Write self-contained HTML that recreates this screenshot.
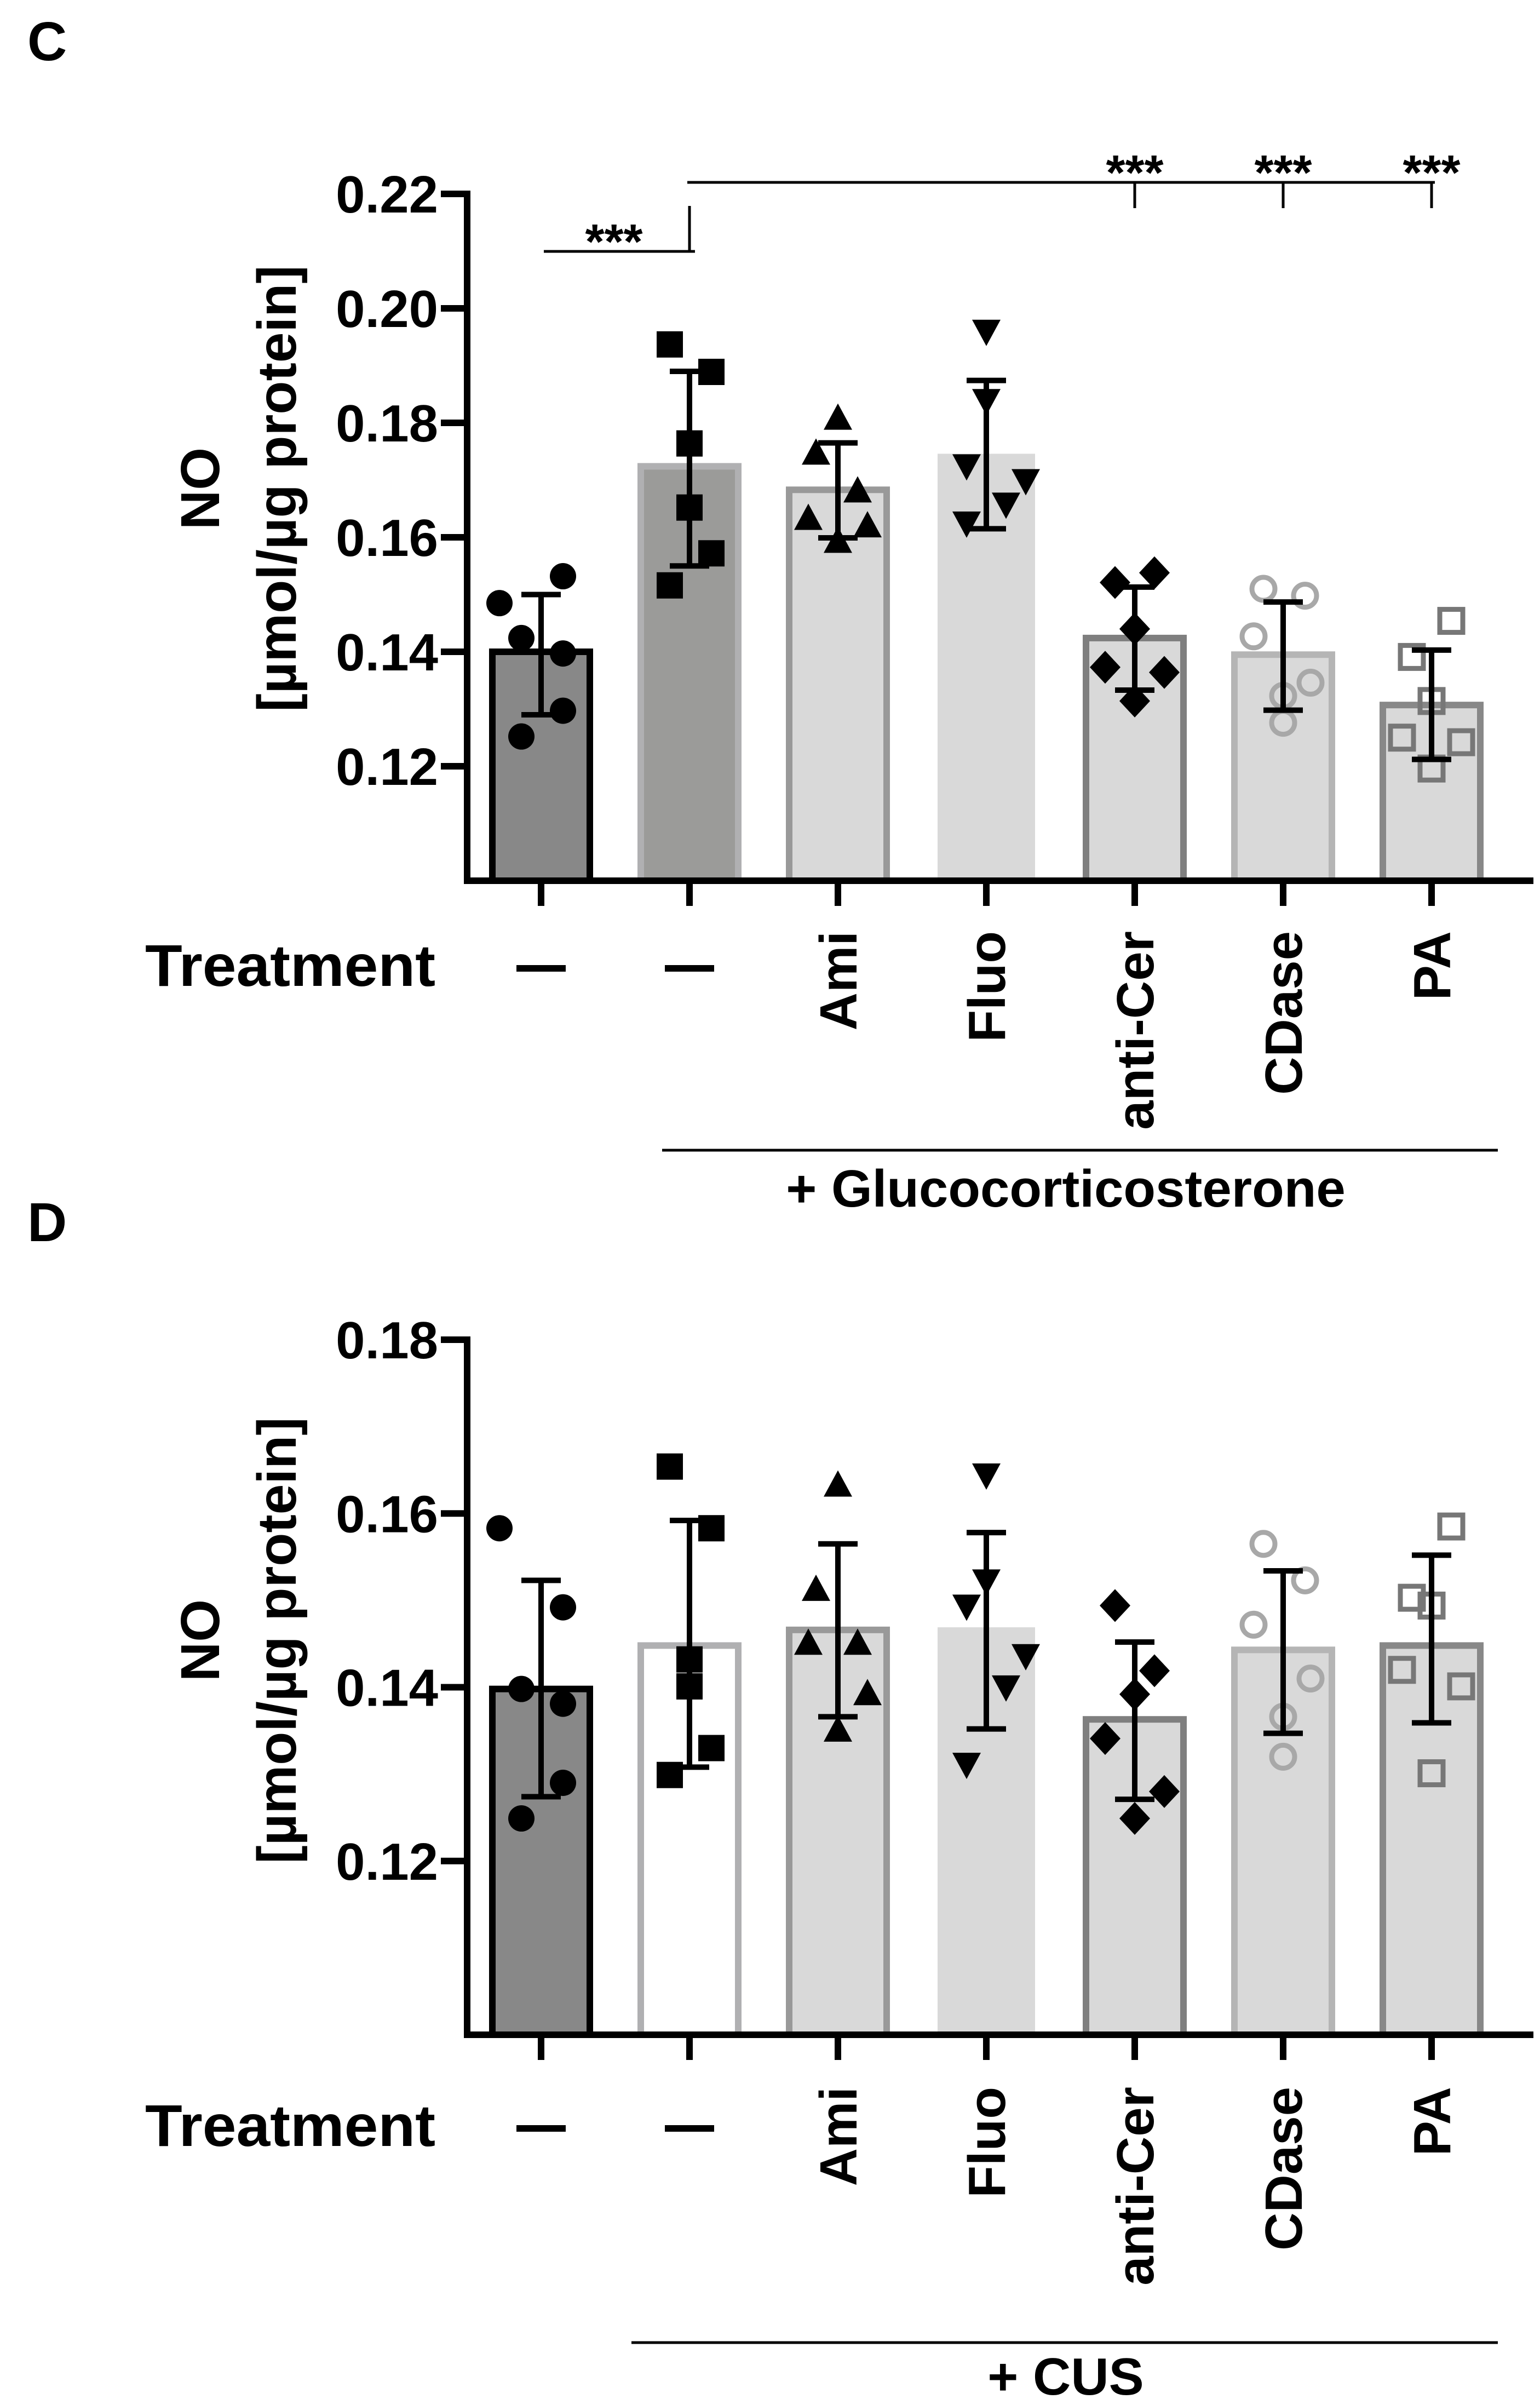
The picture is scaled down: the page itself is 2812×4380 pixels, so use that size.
<!DOCTYPE html>
<html><head><meta charset="utf-8"><style>
html,body{margin:0;padding:0;background:#fff;}
svg{display:block;}
text{font-family:"Liberation Sans",Arial,sans-serif;font-weight:bold;fill:#000;}
</style></head><body>
<svg id="fig" width="2812" height="4380" viewBox="0 0 2812 4380" xmlns="http://www.w3.org/2000/svg">
<text x="50" y="110" font-size="100">C</text>
<text x="50" y="2266" font-size="100">D</text>
<g id="chartC"></g>
<g id="chartD"></g>
</svg>
<script>
const categories = ["—","—","Ami","Fluo","anti-Cer","CDase","PA"];
const markerTypes = ["circle","square","triangle","tridown","diamond","ocircle","osquare"];
const cMeans = [0.140,0.1724,0.1683,0.1746,0.1424,0.1395,0.1307];
const cErrHi = [0.150,0.189,0.1765,0.1874,0.1513,0.1487,0.1403];
const cErrLo = [0.129,0.155,0.1599,0.1615,0.1333,0.1298,0.1212];
const cPoints = [
 [0.1485,0.1532,0.1424,0.1397,0.1297,0.1252],
 [0.1937,0.1889,0.1764,0.1652,0.1572,0.1516],
 [0.1807,0.1746,0.168,0.1632,0.1619,0.1592],
 [0.1961,0.184,0.1726,0.170,0.1659,0.1626],
 [0.1521,0.1538,0.144,0.1373,0.1364,0.1314],
 [0.151,0.1498,0.1427,0.1346,0.1323,0.1276],
 [0.1454,0.1391,0.1314,0.125,0.1242,0.1196]];
const cTicks = [0.12,0.14,0.16,0.18,0.20,0.22];
const dMeans = [0.1398,0.1448,0.1466,0.1469,0.1363,0.1443,0.1448];
const dErrHi = [0.1523,0.1592,0.1565,0.1578,0.1452,0.1534,0.1552];
const dErrLo = [0.1274,0.1308,0.1366,0.1352,0.1271,0.1347,0.1359];
const dPoints = [
 [0.1583,0.1492,0.1398,0.1381,0.129,0.1249],
 [0.1654,0.1583,0.1432,0.1401,0.133,0.1299],
 [0.1632,0.1512,0.145,0.145,0.1392,0.135],
 [0.1645,0.1523,0.1494,0.1437,0.1401,0.1312],
 [0.1494,0.1419,0.1392,0.1341,0.128,0.1249],
 [0.1565,0.1523,0.1472,0.141,0.1366,0.132],
 [0.1585,0.1503,0.1494,0.142,0.1401,0.1301]];
const dTicks = [0.12,0.14,0.16,0.18];

const NS="http://www.w3.org/2000/svg";
function mk(parent,tag,attrs){const e=document.createElementNS(NS,tag);for(const k in attrs)e.setAttribute(k,attrs[k]);parent.appendChild(e);return e;}
const xOffsets=[[-76,40,-36,40,40,-36],[-36,40,0,0,40,-36],[0,-40,36,-54,54,0],[0,0,-36,72,36,-36],[-36,36,0,-54,54,0],[-36,40,-54,50,0,0],[36,-36,0,-54,54,0]];
function xC(i){return 988+271*i;}

function drawChart(g,cfg){
  const {means,hi,lo,pts,ticks,y0,y1,vmin,vmax,fills,strokes,sw}=cfg;
  const y=v=>y0-(v-vmin)*(y0-y1)/(vmax-vmin);
  means.forEach((m,i)=>{
    const r=mk(g,'rect',{x:xC(i)-89,y:y(m),width:178,height:y0-y(m),fill:fills[i],stroke:strokes[i],'stroke-width':sw[i]});
    
    
  });
  pts.forEach((arr,i)=>{
    arr.forEach((v,j)=>{
      const px=xC(i)+xOffsets[i][j], py=y(v); const t=markerTypes[i]; let e;
      if(t==='circle') e=mk(g,'circle',{cx:px,cy:py,r:24,fill:'#000'});
      else if(t==='square') e=mk(g,'rect',{x:px-24,y:py-24,width:48,height:48,fill:'#000'});
      else if(t==='triangle') e=mk(g,'polygon',{points:`${px},${py-28} ${px-26},${py+20} ${px+26},${py+20}`,fill:'#000'});
      else if(t==='tridown') e=mk(g,'polygon',{points:`${px},${py+28} ${px-26},${py-20} ${px+26},${py-20}`,fill:'#000'});
      else if(t==='diamond') e=mk(g,'polygon',{points:`${px},${py-30} ${px+28},${py} ${px},${py+30} ${px-28},${py}`,fill:'#000'});
      else if(t==='ocircle') e=mk(g,'circle',{cx:px,cy:py,r:21,fill:'none',stroke:'#a8a8a8','stroke-width':9});
      else e=mk(g,'rect',{x:px-21,y:py-21,width:42,height:42,fill:'none',stroke:'#777','stroke-width':9});
      
      
    });
    const cx=xC(i);
    const eb=mk(g,'path',{d:`M${cx},${y(hi[i])}V${y(lo[i])}M${cx-36},${y(hi[i])}H${cx+36}M${cx-36},${y(lo[i])}H${cx+36}`,stroke:'#000','stroke-width':10,fill:'none'});
    
    
  });
  const ax=mk(g,'path',{d:`M853,${y1-6}V${y0+6}M847,${y0}H2800`,stroke:'#000','stroke-width':12,fill:'none'});
  
  
  ticks.forEach(t=>{
    mk(g,'line',{x1:805,x2:853,y1:y(t),y2:y(t),stroke:'#000','stroke-width':12});
    const tx=mk(g,'text',{x:800,y:y(t)+34,'font-size':96,'text-anchor':'end'});
    tx.textContent=t.toFixed(2);
    
    
  });
  categories.forEach((c,i)=>{
    mk(g,'line',{x1:xC(i),x2:xC(i),y1:y0,y2:y0+46,stroke:'#000','stroke-width':12});
  });
}

function labels(g,cfg){
  const {treatY,labelTop,titleY}=cfg;
  const t=mk(g,'text',{x:265,y:treatY,'font-size':108,textLength:530,lengthAdjust:'spacingAndGlyphs'});
  t.textContent='Treatment';
  
  
  categories.forEach((c,i)=>{
    if(i<2){
      const d=mk(g,'rect',{x:xC(i)-45,y:treatY-38,width:90,height:12,fill:'#000'});
      
      
    } else {
      const e=mk(g,'text',{x:0,y:0,'font-size':96,'text-anchor':'end',transform:`translate(${xC(i)+34},${labelTop}) rotate(-90)`});
      e.textContent=c;
      
      
    }
  });
  const a=mk(g,'text',{x:0,y:0,'font-size':100,'text-anchor':'middle',transform:`translate(400,${titleY}) rotate(-90)`});
  a.textContent='NO';
  
  
  const b=mk(g,'text',{x:0,y:0,'font-size':100,'text-anchor':'middle',transform:`translate(540,${titleY}) rotate(-90)`});
  b.textContent='[µmol/µg protein]';
  
  
}

const gC=document.getElementById('chartC');
drawChart(gC,{means:cMeans,hi:cErrHi,lo:cErrLo,pts:cPoints,ticks:cTicks,y0:1608,y1:354,vmin:0.10,vmax:0.22,
  fills:['#888888','#9b9b99','#d9d9d9','#d9d9d9','#d9d9d9','#d9d9d9','#d9d9d9'],
  strokes:['#000','#b0b0b2','#999','none','#7f7f7f','#b5b5b5','#888'],sw:[12,12,12,0,12,12,12]});
labels(gC,{treatY:1800,labelTop:1700,titleY:892});
const s1=mk(gC,'path',{d:'M993,459H1269M1259,459V376M1255,333H2620M2072,333V380M2343,333V380M2614,333V380',stroke:'#000','stroke-width':5,fill:'none'});


[[1121,458],[2072,332],[2343,332],[2614,332]].forEach(p=>{
  const s=mk(gC,'text',{x:p[0],y:p[1]+14,'font-size':90,'text-anchor':'middle'});
  s.textContent='***';
  
  
});
const l1=mk(gC,'line',{x1:1209,x2:2735,y1:2100,y2:2100,stroke:'#000','stroke-width':5});


const g1=mk(gC,'text',{x:1946,y:2203,'font-size':96,'text-anchor':'middle'});
g1.textContent='+ Glucocorticosterone';



const gD=document.getElementById('chartD');
drawChart(gD,{means:dMeans,hi:dErrHi,lo:dErrLo,pts:dPoints,ticks:dTicks,y0:3715,y1:2446,vmin:0.10,vmax:0.18,
  fills:['#888888','#ffffff','#d9d9d9','#d9d9d9','#d9d9d9','#d9d9d9','#d9d9d9'],
  strokes:['#000','#b0b0b2','#999','none','#7f7f7f','#b5b5b5','#888'],sw:[12,12,12,0,12,12,12]});
labels(gD,{treatY:3918,labelTop:3810,titleY:2995});
const l2=mk(gD,'line',{x1:1153,x2:2735,y1:4277,y2:4277,stroke:'#000','stroke-width':5});


const g2=mk(gD,'text',{x:1946,y:4372,'font-size':96,'text-anchor':'middle'});
g2.textContent='+ CUS';


</script>
</body></html>
